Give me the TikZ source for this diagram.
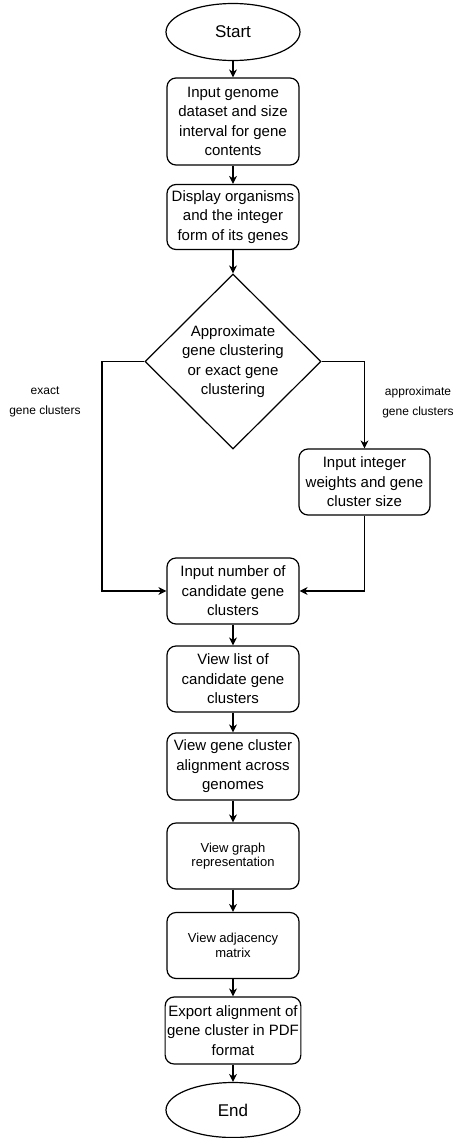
\documentclass[tikz,border=0pt]{standalone}
\usepackage{fontspec}
\setmainfont{Liberation Sans}
\usetikzlibrary{arrows.meta,shapes.geometric}
\begin{document}
\begin{tikzpicture}[x=1pt,y=-1pt,
  line width=1.2pt,
  proc/.style={draw,rounded corners=9pt,minimum width=132pt,align=center,inner sep=2pt,font=\fontsize{15}{19.4}\selectfont},
  procs/.style={proc,font=\fontsize{13}{14.5}\selectfont},
  term/.style={draw,ellipse,minimum width=134pt,minimum height=57pt,inner sep=0pt,font=\fontsize{17}{20}\selectfont},
  dec/.style={draw,diamond,minimum width=176pt,minimum height=175pt,inner sep=0pt,align=center,font=\fontsize{15}{19.4}\selectfont},
  lab/.style={align=center,font=\fontsize{12}{20}\selectfont},
  arr/.style={-{Stealth[length=8pt,width=8pt,inset=2.5pt]}}]
\useasboundingbox (0,0) rectangle (456,1138);
\node[term] (start) at (233,32) {Start};
\node[proc,minimum height=87pt] (b1) at (233,121.5) {Input genome\\dataset and size\\interval for gene\\contents};
\node[proc,minimum height=65pt] (b2) at (233,217) {Display organisms\\and the integer\\form of its genes};
\node[dec] (d) at (233,361.5) {Approximate\\gene clustering\\or exact gene\\clustering};
\node[proc,minimum height=66pt,minimum width=131pt] (b3) at (364.5,482) {Input integer\\weights and gene\\cluster size};
\node[proc,minimum height=66pt] (b4) at (233,591) {Input number of\\candidate gene\\clusters};
\node[proc,minimum height=66pt] (b5) at (233,679) {View list of\\candidate gene\\clusters};
\node[proc,minimum height=67pt] (b6) at (233,766.5) {View gene cluster\\alignment across\\genomes};
\node[procs,minimum height=66pt] (b7) at (233,856) {View graph\\representation};
\node[procs,minimum height=66pt] (b8) at (233,945.5) {View adjacency\\matrix};
\node[proc,minimum height=67pt] (b9) at (233,1030.5) {Export alignment of\\gene cluster in PDF\\format};
\node[term,minimum height=55pt] (end) at (233,1110) {End};
\node[lab] (l1) at (45,402) {exact\\gene clusters};
\node[lab] (l2) at (418,402) {approximate\\gene clusters};
\draw[arr] (start) -- (b1);
\draw[arr] (b1) -- (b2);
\draw[arr] (b2) -- (d);
\draw[arr] (d.west) -| (102,591) -- (b4.west);
\draw[arr] (d.east) -| (b3.north);
\draw[arr] (b3.south) |- (b4.east);
\draw[arr] (b4) -- (b5);
\draw[arr] (b5) -- (b6);
\draw[arr] (b6) -- (b7);
\draw[arr] (b7) -- (b8);
\draw[arr] (b8) -- (b9);
\draw[arr] (b9) -- (end);
\end{tikzpicture}
\end{document}
